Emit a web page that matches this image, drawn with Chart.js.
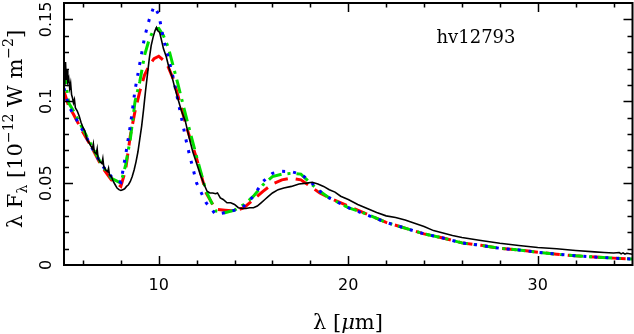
<!DOCTYPE html>
<html><head><meta charset="utf-8">
<script src="https://cdn.jsdelivr.net/npm/chart.js@4/dist/chart.umd.min.js"></script>
<style>html,body{margin:0;padding:0;background:#fff;overflow:hidden}canvas{display:block}</style>
</head><body>
<canvas id="c" width="634" height="334"></canvas>
<script>
// Observed spectrum (black)
const obsWave = [5.00,5.04,5.08,5.12,5.16,5.20,5.25,5.30,5.35,5.40,5.45,5.50,5.55,5.60,5.70,5.80,5.90,6.00,6.10,6.20,6.30,6.40,6.50,6.55,6.60,6.70,6.75,6.80,6.90,7.00,7.05,7.10,7.20,7.30,7.35,7.40,7.50,7.60,7.70,7.80,7.90,8.00,8.10,8.20,8.30,8.40,8.50,8.60,8.70,8.80,8.90,9.00,9.10,9.20,9.30,9.40,9.50,9.60,9.70,9.80,9.88,9.95,10.05,10.15,10.25,10.40,10.55,10.70,10.85,11.00,11.20,11.40,11.60,11.80,12.00,12.20,12.40,12.55,12.70,12.85,13.00,13.10,13.25,13.40,13.60,13.80,14.00,14.20,14.40,14.60,14.80,15.00,15.20,15.40,15.60,15.80,16.00,16.30,16.60,17.00,17.40,17.80,18.10,18.40,18.70,19.00,19.30,19.60,20.00,20.50,21.00,21.50,22.00,22.50,23.00,23.50,24.00,24.50,25.00,25.50,26.00,27.00,28.00,29.00,30.00,31.00,32.00,33.00,33.50,34.00,34.30,34.40,34.50,34.60,34.70,35.00];
const obsFlux = [0.110,0.118,0.124,0.113,0.119,0.112,0.114,0.108,0.111,0.104,0.102,0.099,0.101,0.096,0.094,0.091,0.087,0.084,0.082,0.077,0.075,0.073,0.071,0.074,0.069,0.068,0.071,0.065,0.063,0.062,0.065,0.060,0.058,0.057,0.059,0.055,0.054,0.051,0.049,0.047,0.046,0.0455,0.046,0.0465,0.048,0.049,0.051,0.054,0.058,0.063,0.069,0.077,0.085,0.095,0.106,0.116,0.126,0.134,0.139,0.143,0.145,0.143,0.142,0.137,0.132,0.127,0.120,0.115,0.108,0.102,0.094,0.088,0.078,0.069,0.062,0.055,0.049,0.045,0.044,0.044,0.0435,0.044,0.041,0.040,0.038,0.038,0.037,0.035,0.0345,0.0345,0.035,0.035,0.036,0.038,0.040,0.042,0.044,0.046,0.047,0.048,0.0495,0.050,0.0505,0.0495,0.048,0.046,0.0445,0.042,0.040,0.037,0.0345,0.032,0.030,0.029,0.0275,0.0255,0.0235,0.021,0.0195,0.018,0.0168,0.015,0.0133,0.0119,0.0107,0.0099,0.0089,0.0080,0.0076,0.0073,0.0076,0.0068,0.0074,0.0066,0.0072,0.0066];

// Model spectra
const modelWave = [5.0,5.25,5.5,6.0,6.5,7.0,7.5,8.0,8.25,8.5,8.75,9.0,9.25,9.5,9.75,10.0,10.25,10.5,10.75,11.0,11.5,12.0,12.5,13.0,13.5,14.0,14.5,15.0,15.5,16.0,16.5,17.0,17.5,18.0,18.5,19.0,20.0,21.0,22.0,23.0,24.0,25.0,26.0,27.0,28.0,29.0,30.0,31.0,32.0,33.0,34.0,35.0];
const fluxRed   = [0.106,0.097,0.092,0.081,0.071,0.060,0.052,0.048,0.058,0.079,0.094,0.106,0.116,0.122,0.126,0.1275,0.125,0.121,0.114,0.104,0.083,0.065,0.044,0.034,0.0335,0.033,0.035,0.040,0.045,0.0495,0.052,0.053,0.052,0.048,0.044,0.041,0.036,0.031,0.026,0.0225,0.019,0.0165,0.0135,0.012,0.0102,0.0092,0.0078,0.0066,0.0056,0.0049,0.0042,0.0036];
const fluxGreen = [0.119,0.099,0.094,0.083,0.072,0.061,0.053,0.050,0.061,0.077,0.100,0.112,0.128,0.138,0.144,0.1445,0.140,0.133,0.122,0.111,0.088,0.066,0.045,0.033,0.032,0.0335,0.037,0.042,0.049,0.054,0.0555,0.056,0.0555,0.050,0.045,0.041,0.035,0.031,0.026,0.0225,0.019,0.0165,0.0135,0.012,0.0102,0.0092,0.0078,0.0066,0.0056,0.0049,0.0042,0.0036];
const fluxBlue  = [0.108,0.097,0.092,0.082,0.071,0.061,0.054,0.0505,0.067,0.085,0.107,0.123,0.139,0.150,0.158,0.153,0.138,0.127,0.115,0.101,0.073,0.050,0.038,0.031,0.032,0.0335,0.036,0.042,0.051,0.056,0.0572,0.057,0.0555,0.051,0.045,0.041,0.035,0.0305,0.026,0.0225,0.019,0.0165,0.0135,0.012,0.0102,0.0092,0.0078,0.0066,0.0056,0.0049,0.0042,0.0036];

const xTickLabels = ['10','20','30'];
const yTickLabels = ['0','0.05','0.1','0.15'];
const objectName = 'hv12793';

function pts(xs, ys){ return xs.map((x,i)=>({x:x, y:ys[i]})); }

function drawRich(ctx, segs, x, y, align){
  let total = 0;
  segs.forEach(s=>{ ctx.font = s.font; s.w = ctx.measureText(s.t).width; total += s.w; });
  let cx = align === 'center' ? x - total/2 : x;
  segs.forEach(s=>{ ctx.font = s.font; ctx.fillText(s.t, cx, y + (s.dy||0)); cx += s.w; });
}

const framePlugin = {
  id: 'frame',
  afterDraw(chart){
    const ctx = chart.ctx, a = chart.chartArea;
    const xs = chart.scales.x, ys = chart.scales.y;
    ctx.save();
    ctx.strokeStyle = '#000'; ctx.fillStyle = '#000';
    ctx.lineWidth = 2;
    ctx.strokeRect(a.left, a.top, a.right - a.left, a.bottom - a.top);
    ctx.lineWidth = 1.5;
    const xMajor = xTickLabels.map(parseFloat);
    ctx.beginPath();
    for (let v = 6; v <= 34; v += 2){
      const px = Math.round(xs.getPixelForValue(v)) + 0.5;
      const len = xMajor.indexOf(v) >= 0 ? 9 : 4.5;
      ctx.moveTo(px, a.bottom); ctx.lineTo(px, a.bottom - len);
      ctx.moveTo(px, a.top); ctx.lineTo(px, a.top + len);
    }
    for (let i = 1; i <= 15; i++){
      const v = i/100;
      const py = Math.round(ys.getPixelForValue(v)) + 0.5;
      const len = (i % 5 === 0) ? 9 : 5;
      ctx.moveTo(a.left, py); ctx.lineTo(a.left + len, py);
      ctx.moveTo(a.right, py); ctx.lineTo(a.right - len, py);
    }
    ctx.stroke();
    // x tick labels
    ctx.font = '16px "DejaVu Sans"';
    ctx.textAlign = 'center'; ctx.textBaseline = 'alphabetic';
    xTickLabels.forEach(l=>{ ctx.fillText(l, xs.getPixelForValue(parseFloat(l)), 290); });
    // y tick labels (rotated)
    yTickLabels.forEach(l=>{
      const py = ys.getPixelForValue(parseFloat(l));
      ctx.save(); ctx.translate(51, py); ctx.rotate(-Math.PI/2);
      ctx.fillText(l, 0, 0); ctx.restore();
    });
    // x title
    ctx.textAlign = 'left';
    const F = '"DejaVu Serif"';
    drawRich(ctx, [
      {t:'\u03bb [', font:'21px '+F},
      {t:'\u03bc', font:'italic 21px '+F},
      {t:'m]', font:'21px '+F}
    ], 348, 329, 'center');
    // y title
    ctx.save(); ctx.translate(22, 129); ctx.rotate(-Math.PI/2);
    drawRich(ctx, [
      {t:'\u03bb F', font:'21px '+F},
      {t:'\u03bb', font:'14px '+F, dy:5},
      {t:' [10', font:'21px '+F},
      {t:'\u221212', font:'14px '+F, dy:-9},
      {t:' W m', font:'21px '+F},
      {t:'\u22122', font:'14px '+F, dy:-9},
      {t:']', font:'21px '+F}
    ], 0, 0, 'center');
    ctx.restore();
    // object name
    ctx.font = '18px '+F; ctx.textAlign = 'center';
    ctx.fillText(objectName, 476, 43);
    ctx.restore();
  }
};

new Chart(document.getElementById('c'), {
  type: 'scatter',
  data: {
    datasets: [
      {label:'observed', data: pts(obsWave, obsFlux), showLine:true, borderColor:'#000', borderWidth:1.6, pointRadius:0, order:0},
      {label:'model 3', data: pts(modelWave, fluxBlue), showLine:true, borderColor:'#0000ff', borderWidth:3, borderDash:[3,8], pointRadius:0, order:1},
      {label:'model 2', data: pts(modelWave, fluxGreen), showLine:true, borderColor:'#00dd00', borderWidth:3, borderDash:[14,6,3,6], pointRadius:0, order:2},
      {label:'model 1', data: pts(modelWave, fluxRed), showLine:true, borderColor:'#ff0000', borderWidth:3, borderDash:[14,8], pointRadius:0, order:3}
    ]
  },
  options: {
    responsive:false, animation:false, devicePixelRatio:1,
    layout:{padding:{left:64, top:3, right:1.5, bottom:69}},
    plugins:{legend:{display:false}, tooltip:{enabled:false}},
    scales:{
      x:{type:'linear', min:5, max:35, display:false},
      y:{type:'linear', min:0, max:0.16, display:false}
    },
    elements:{line:{tension:0, borderCapStyle:'butt'}}
  },
  plugins:[framePlugin]
});
</script>
</body></html>
